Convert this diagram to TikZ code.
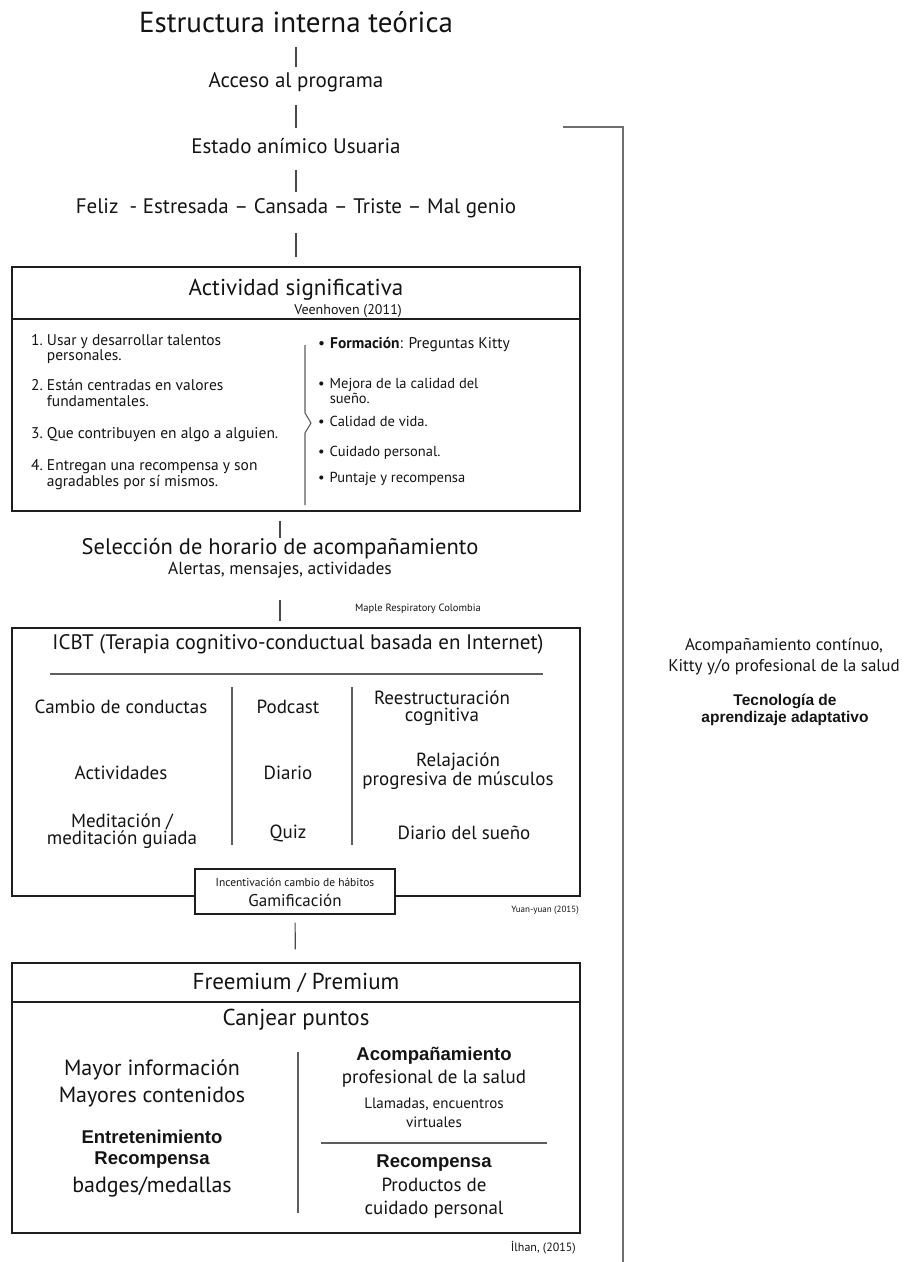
\documentclass[tikz,border=0pt]{standalone}
\usepackage{fontspec}
\setmainfont{PT Sans}
\newfontfamily\arialfont{Liberation Sans}
\usetikzlibrary{positioning,calc}
\newcommand\fsz[1]{\fontsize{#1}{#1}\selectfont}
\newcommand\fszl[2]{\fontsize{#1}{#2}\selectfont}
\definecolor{etText}{HTML}{141414}
\definecolor{etFrame}{HTML}{1E1E1E}
\definecolor{etLine}{HTML}{4A4A4A}
\definecolor{etRule}{HTML}{5E5E5E}
\definecolor{etBracket}{HTML}{6E6E6E}
\tikzset{
  flowtext/.style={inner sep=0pt, align=center, text=etText, font=\fsz{21}},
  frame/.style={draw=etFrame, line width=1.2pt, fill=white, inner sep=0pt},
  conn/.style={draw=etLine, line width=1.1pt},
  divider/.style={draw=etRule, line width=1.1pt},
  bracket/.style={draw=etBracket, line width=1.4pt},
  cite/.style={inner sep=0pt, anchor=east, text=etText, font=\fsz{9}},
  listitem/.style={inner sep=0pt, anchor=west, align=left, text=etText, font=\fszl{14.5}{14}},
  cell/.style={inner sep=0pt, align=center, text=etText, font=\fszl{19}{15.5}},
  boldtext/.style={flowtext, font=\arialfont\bfseries\fsz{18.5}}
}
\begin{document}
\begin{tikzpicture}[x=1pt, y=-1pt]
  \useasboundingbox (0,0) rectangle (904,1262);
  % flujo de entrada
  \node[flowtext, font=\fsz{29}] (titulo) at (296,22) {Estructura interna teórica};
  \node[flowtext] (acceso) at (296,82) {Acceso al programa};
  \node[flowtext] (estado) at (296,146) {Estado anímico Usuaria};
  \node[flowtext] (animo) at (296,208) {Feliz\ \ - Estresada – Cansada – Triste – Mal genio};
  % actividad significativa
  \node[frame, minimum width=568pt, minimum height=244pt] (actividad) at (296,389) {};
  \draw[frame] (12,319) -- (580,319);
  \node[flowtext, font=\fsz{23}] (actTit) at (296,290) {Actividad significativa};
  \node[cite, font=\fsz{14}] (veen) at (402,311) {Veenhoven (2011)};
  \node[listitem, font=\fszl{15.5}{14.5}] (act1) at (31,350) {\begin{tabular}{@{}l@{\hspace{4pt}}l@{}}1. & Usar y desarrollar talentos\\ & personales.\end{tabular}};
  \node[listitem, font=\fszl{15.5}{14.5}] (act2) at (31,395) {\begin{tabular}{@{}l@{\hspace{4pt}}l@{}}2. & Están centradas en valores\\ & fundamentales.\end{tabular}};
  \node[listitem, font=\fszl{15.5}{14.5}] (act3) at (31,435) {\begin{tabular}{@{}l@{\hspace{4pt}}l@{}}3. & Que contribuyen en algo a alguien.\end{tabular}};
  \node[listitem, font=\fszl{15.5}{14.5}] (act4) at (31,475) {\begin{tabular}{@{}l@{\hspace{4pt}}l@{}}4. & Entregan una recompensa y son\\ & agradables por sí mismos.\end{tabular}};
  \draw[divider] (305,345) -- (305,413) -- (311,423) -- (305,433) -- (305,505);
  \node[listitem, font=\fszl{15.5}{14.5}] (ben1) at (318,345) {\begin{tabular}{@{}l@{\hspace{5pt}}l@{}}\textbullet & \textbf{Formación}: Preguntas Kitty\end{tabular}};
  \node[listitem] (ben2) at (318,393) {\begin{tabular}{@{}l@{\hspace{5pt}}l@{}}\textbullet & Mejora de la calidad del\\ & sueño.\end{tabular}};
  \node[listitem] (ben3) at (318,423) {\begin{tabular}{@{}l@{\hspace{5pt}}l@{}}\textbullet & Calidad de vida.\end{tabular}};
  \node[listitem] (ben4) at (318,453) {\begin{tabular}{@{}l@{\hspace{5pt}}l@{}}\textbullet & Cuidado personal.\end{tabular}};
  \node[listitem] (ben5) at (318,479) {\begin{tabular}{@{}l@{\hspace{5pt}}l@{}}\textbullet & Puntaje y recompensa\end{tabular}};
  % horario
  \node[flowtext, font=\fsz{22.5}] (seleccion) at (280,549) {Selección de horario de acompañamiento};
  \node[flowtext, font=\fsz{17.5}] (alertas) at (280,570) {Alertas, mensajes, actividades};
  \node[cite, font=\fsz{10.5}] (maple) at (481,609) {Maple Respiratory Colombia};
  % ICBT
  \node[frame, minimum width=568pt, minimum height=268pt] (icbt) at (296,762) {};
  \node[flowtext] (icbtTit) at (298,644) {ICBT (Terapia cognitivo-conductual basada en Internet)};
  \draw[divider] (50,674) -- (543,674);
  \draw[divider] (232,687) -- (232,845);
  \draw[divider] (352,687) -- (352,845);
  \node[cell] (c11) at (121,707) {Cambio de conductas};
  \node[cell] (c21) at (121,773) {Actividades};
  \node[cell] (c31) at (122,831) {Meditación /\\meditación guiada};
  \node[cell] (c12) at (288,707) {Podcast};
  \node[cell] (c22) at (288,773) {Diario};
  \node[cell] (c32) at (288,833) {Quiz};
  \node[cell, font=\fszl{19}{17.5}] (c13) at (442,708) {Reestructuración\\cognitiva};
  \node[cell, font=\fszl{19}{16.5}] (c23) at (458,771) {Relajación\\progresiva de músculos};
  \node[cell] (c33) at (464,833) {Diario del sueño};
  \node[frame, minimum width=200pt, minimum height=45pt] (gamif) at (295,891.5) {};
  \node[flowtext, font=\fsz{11.5}] (incent) at (295,882) {Incentivación cambio de hábitos};
  \node[flowtext, font=\fsz{17}] (gamiTxt) at (295,900) {Gamificación};
  \node[cite] (yuan) at (579,910) {Yuan-yuan (2015)};
  % freemium
  \node[frame, minimum width=568pt, minimum height=270pt] (freemium) at (296,1098) {};
  \draw[frame] (12,1002) -- (580,1002);
  \node[flowtext, font=\fsz{23}] (fpTit) at (296,983) {Freemium / Premium};
  \node[flowtext, font=\fsz{23}] (canjear) at (296,1020) {Canjear puntos};
  \draw[divider] (298,1052) -- (298,1213);
  \node[flowtext, font=\fsz{22}] (info) at (152,1070) {Mayor información};
  \node[flowtext, font=\fsz{22}] (conten) at (152,1097) {Mayores contenidos};
  \node[boldtext] (entret) at (152,1137) {Entretenimiento};
  \node[boldtext] (recomp) at (152,1160) {Recompensa};
  \node[flowtext, font=\fsz{22}] (badges) at (152,1187) {badges/medallas};
  \node[boldtext] (acompB) at (434,1056) {Acompañamiento};
  \node[flowtext, font=\fsz{19}] (prof) at (434,1079) {profesional de la salud};
  \node[flowtext, font=\fszl{15}{19}] (llamadas) at (434,1113) {Llamadas, encuentros\\virtuales};
  \draw[divider] (321,1143) -- (547,1143);
  \node[boldtext] (recompB) at (434,1163) {Recompensa};
  \node[flowtext, font=\fszl{19}{23}] (productos) at (434,1198) {Productos de\\cuidado personal};
  \node[cite, font=\fsz{12}] (ilhan) at (576,1248) {İlhan, (2015)};
  % acompañamiento continuo
  \node[flowtext, font=\fszl{17}{21}] (continuo) at (784,657) {Acompañamiento contínuo,\\Kitty y/o profesional de la salud};
  \node[flowtext, font=\arialfont\bfseries\fszl{15.5}{16.5}] (tecno) at (785,710) {Tecnología de\\aprendizaje adaptativo};
  \draw[bracket] (563,127) -- (623,127) -- (623,1262);
  % conectores
  \draw[conn, shorten <=14pt, shorten >=5pt] (titulo) -- (acceso);
  \draw[conn, shorten <=13pt, shorten >=10pt] (acceso) -- (estado);
  \draw[conn, shorten <=16pt, shorten >=6pt] (estado) -- (animo);
  \draw[conn, shorten <=15pt, shorten >=9pt] (animo) -- (actividad);
  \draw[conn, shorten <=9pt, shorten >=0pt] (actividad.south -| seleccion) -- (seleccion);
  \draw[conn, shorten <=22pt, shorten >=6pt] (alertas) -- (alertas |- icbt.north);
  \draw[conn, shorten <=8pt, shorten >=13pt] (gamif) -- (freemium);
\end{tikzpicture}
\end{document}
